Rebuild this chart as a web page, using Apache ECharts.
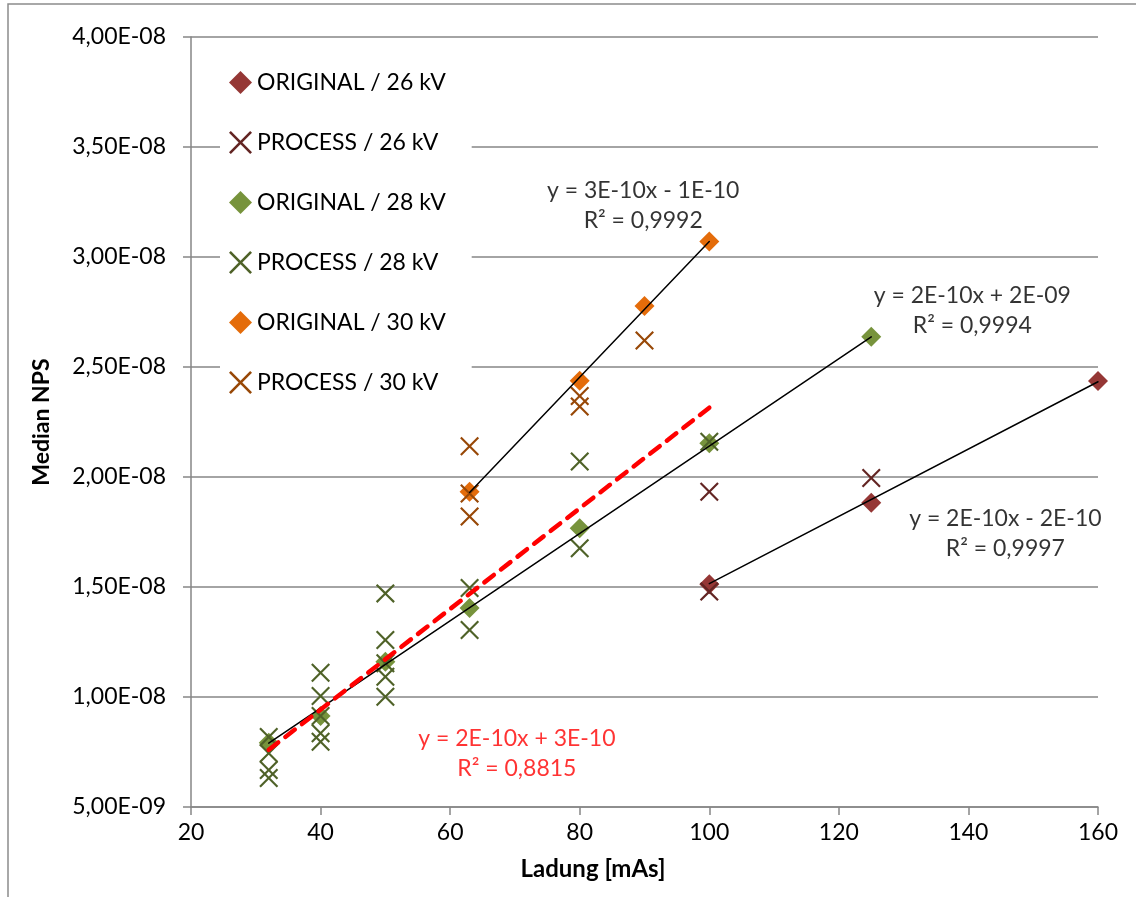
<!DOCTYPE html>
<html>
<head>
<meta charset="utf-8">
<script src="https://cdn.jsdelivr.net/npm/echarts@6/dist/echarts.min.js"></script>
<style>
  html, body { margin: 0; padding: 0; background: #fff; }
  #chart { width: 1136px; height: 897px; }
</style>
</head>
<body>
<div id="chart"></div>
<script>
// measured points [Ladung mAs, Median NPS]
const original26 = [[100, 1.512e-8], [125, 1.883e-8], [160, 2.436e-8]];
const process26 = [[100, 1.933e-8], [100, 1.479e-8], [125, 1.995e-8]];
const original28 = [[32, 7.92e-9], [40, 9.14e-9], [50, 1.16e-8], [63, 1.405e-8], [80, 1.767e-8], [100, 2.153e-8], [125, 2.637e-8]];
const process28 = [
    [32, 8.18e-9], [32, 7.44e-9], [32, 6.68e-9], [32, 6.32e-9],
    [40, 1.11e-8], [40, 1.005e-8], [40, 9.14e-9], [40, 8.35e-9], [40, 7.97e-9],
    [50, 1.471e-8], [50, 1.259e-8], [50, 1.153e-8], [50, 1.092e-8], [50, 1.001e-8],
    [63, 1.495e-8], [63, 1.305e-8],
    [80, 2.07e-8], [80, 1.676e-8],
    [100, 2.16e-8],
];
const original30 = [[63, 1.933e-8], [80, 2.438e-8], [90, 2.777e-8], [100, 3.07e-8]];
const process30 = [[63, 2.14e-8], [63, 1.925e-8], [63, 1.82e-8], [80, 2.368e-8], [80, 2.32e-8], [90, 2.62e-8]];

// trendline end points
const trend26 = [[100, 1.515e-8], [160, 2.433e-8]];
const trend28 = [[32, 7.9e-9], [125, 2.637e-8]];
const trend30 = [[63, 1.93e-8], [100, 3.07e-8]];
const trendProcess28 = [[32, 7.6e-9], [100, 2.315e-8]];

const eqLabels = [
    { value: [89.8, 3.236e-8], name: "y = 3E-10x - 1E-10\nR² = 0,9992", color: "#000" },
    { value: [140.6, 2.755e-8], name: "y = 2E-10x + 2E-09\nR² = 0,9994", color: "#000" },
    { value: [145.7, 1.745e-8], name: "y = 2E-10x - 2E-10\nR² = 0,9997", color: "#000" },
    { value: [70.3, 7.45e-9], name: "y = 2E-10x + 3E-10\nR² = 0,8815", color: "#ff0000" },
];

const FONT = "Lato";
const xMark = "path://M0,8L8,0L50,42L92,0L100,8L58,50L100,92L92,100L50,58L8,100L0,92L42,50Z";

function sci(v) {
    const [m, e] = v.toExponential(2).split("e");
    const n = parseInt(e, 10);
    return m.replace(".", ",") + "E" + (n < 0 ? "-" : "+") + String(Math.abs(n)).padStart(2, "0");
}

function points(name, data, symbol, color, size) {
    return {
        name: name,
        type: "scatter",
        data: data,
        symbol: symbol,
        symbolSize: size,
        itemStyle: { color: color, opacity: 1 },
        z: 2,
        silent: true,
    };
}

function trend(data, color, width, dash) {
    return {
        type: "line",
        data: data,
        symbol: "none",
        lineStyle: { color: color, width: width, type: dash || "solid", cap: "round" },
        z: 5,
        silent: true,
    };
}

const chart = echarts.init(document.getElementById("chart"));
chart.setOption({
    animation: false,
    backgroundColor: "#fff",
    textStyle: { fontFamily: FONT },
    grid: { left: 191, right: 38, top: 37, bottom: 90 },
    legend: {
        orient: "vertical",
        left: 220,
        top: 65,
        backgroundColor: "#fff",
        padding: [6, 26, 6, 9],
        itemWidth: 23,
        itemHeight: 23,
        itemGap: 37,
        data: [
            "ORIGINAL / 26 kV", "PROCESS / 26 kV",
            "ORIGINAL / 28 kV", "PROCESS / 28 kV",
            "ORIGINAL / 30 kV", "PROCESS / 30 kV",
        ],
        textStyle: { fontFamily: FONT, fontSize: 23, color: "#000", lineHeight: 23 },
    },
    xAxis: {
        type: "value",
        min: 20,
        max: 160,
        interval: 20,
        axisLine: { lineStyle: { color: "#868686", width: 1.5 } },
        axisTick: { show: true, length: 8, lineStyle: { color: "#868686", width: 1.5 } },
        axisLabel: { color: "#000", fontSize: 23, margin: 14, fontFamily: FONT },
        splitLine: { show: false },
    },
    yAxis: {
        type: "value",
        min: 5e-9,
        max: 4e-8,
        interval: 5e-9,
        name: "Median NPS",
        nameLocation: "middle",
        nameGap: 138,
        nameTextStyle: { color: "#000", fontSize: 23, fontWeight: "bold", fontFamily: FONT },
        axisLine: { show: true, lineStyle: { color: "#868686", width: 1.5 } },
        axisTick: { show: true, length: 8, lineStyle: { color: "#868686", width: 1.5 } },
        axisLabel: { color: "#000", fontSize: 23, margin: 25, fontFamily: FONT, formatter: sci },
        splitLine: { show: true, lineStyle: { color: "#868686", width: 1.5 } },
    },
    graphic: [
        {
            type: "rect",
            shape: { x: 8, y: 4, width: 1300, height: 1000 },
            style: { fill: "none", stroke: "#8c8c8c", lineWidth: 1.5 },
            silent: true,
        },
        {
            type: "text",
            x: 593,
            y: 857,
            style: { text: "Ladung [mAs]", font: "bold 24px " + FONT, fill: "#000", align: "center" },
        },
    ],
    series: [
        points("ORIGINAL / 26 kV", original26, "diamond", "#953735", 20),
        points("PROCESS / 26 kV", process26, xMark, "#632523", 19),
        points("ORIGINAL / 28 kV", original28, "diamond", "#77933c", 20),
        points("PROCESS / 28 kV", process28, xMark, "#4f6228", 19),
        points("ORIGINAL / 30 kV", original30, "diamond", "#e46c0a", 20),
        points("PROCESS / 30 kV", process30, xMark, "#984807", 19),
        trend(trend26, "#000", 1.5),
        trend(trend28, "#000", 1.5),
        trend(trend30, "#000", 1.5),
        trend(trendProcess28, "#ff0000", 4.5, [12, 9]),
        {
            type: "scatter",
            data: eqLabels.map((d) => ({ value: d.value, name: d.name, label: { color: d.color } })),
            symbolSize: 1,
            itemStyle: { color: "transparent" },
            silent: true,
            z: 6,
            label: {
                show: true,
                position: "inside",
                formatter: "{b}",
                fontFamily: FONT,
                fontSize: 23,
                lineHeight: 30,
                align: "center",
            },
        },
    ],
});
</script>
</body>
</html>
